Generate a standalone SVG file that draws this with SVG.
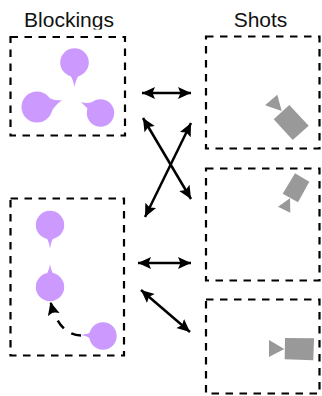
<svg xmlns="http://www.w3.org/2000/svg" width="322" height="396" viewBox="0 0 322 396">
<style>
.box{fill:none;stroke:#000;stroke-width:2.200;stroke-dasharray:7.500 6.500}
.blob{fill:#cc99ff}
.cam{fill:#999}
.lbl{font-family:"Liberation Sans",Arial,sans-serif;font-size:21px;fill:#111;text-anchor:middle}
.c{fill:none;stroke:#000;stroke-width:2.500}
</style>
<defs>
<marker id="a" markerUnits="userSpaceOnUse" markerWidth="16" markerHeight="16" refX="13" refY="7" orient="auto-start-reverse"><path d="M0 1L13 7L0 13L2.500 7Z" fill="#000"/></marker>
<clipPath id="t"><rect x="0" y="0" width="322" height="29.500"/></clipPath>
</defs>
<rect width="322" height="396" fill="#fff"/>
<g id="label-blockings"><text class="lbl" x="69" y="27" clip-path="url(#t)">Blockings</text></g>
<g id="label-shots"><text class="lbl" x="260.500" y="27" clip-path="url(#t)">Shots</text></g>
<g id="blocking-1">
<rect class="box" x="10.500" y="37" width="114.500" height="98.500"/>
<circle class="blob" cx="74.500" cy="62.500" r="14.300"/><path class="blob" d="M70 75Q73 79 74.500 87Q76 79 79 75Z"/>
<circle class="blob" cx="37" cy="107" r="15.500"/><path class="blob" d="M49 98Q54 100.500 62 100.500Q56 104 51 112Z"/>
<circle class="blob" cx="100.500" cy="113" r="13.700"/><path class="blob" d="M81 102Q87 104 92 102L89 110Q85 106 81 102Z"/>
</g>
<g id="blocking-2">
<rect class="box" x="10.500" y="198.500" width="113.500" height="157"/>
<circle class="blob" cx="50" cy="225" r="14.200"/><path class="blob" d="M46 237Q49 241 50 249Q51 241 54 237Z"/>
<circle class="blob" cx="50" cy="287" r="14.200"/><path class="blob" d="M46 275Q49 271 50 264Q51 271 54 275Z"/>
<circle class="blob" cx="103" cy="336" r="13.700"/><path class="blob" d="M92 332Q88 334 81 335Q88 336 92 340Z"/>
</g>
<g id="shot-1">
<rect class="box" x="206" y="36.500" width="113.500" height="112"/>
<path class="cam" d="M289.300 105L308.700 125.700L292.700 140L273.700 119.300Z"/>
<path class="cam" d="M265 105.300L277.300 94.700L281.700 111Z"/>
</g>
<g id="shot-2">
<rect class="box" x="206" y="168.500" width="113.500" height="112"/>
<path class="cam" d="M295 173.300L309.300 181.700L298 202.300L282.700 193.700Z"/>
<path class="cam" d="M278 206.700L290 198.300L290.300 212.700Z"/>
</g>
<g id="shot-3">
<rect class="box" x="206" y="299.500" width="113.500" height="94"/>
<path class="cam" d="M285 338L314 338.300L313.300 360.300L284.700 359.300Z"/>
<path class="cam" d="M269 340L284.300 349L269 357Z"/>
</g>
<g id="connectors">
<path class="c" d="M142 93H191" marker-start="url(#a)" marker-end="url(#a)"/>
<path class="c" d="M143 118L191 199" marker-start="url(#a)" marker-end="url(#a)"/>
<path class="c" d="M191 123L145 217" marker-start="url(#a)" marker-end="url(#a)"/>
<path class="c" d="M138 263H191" marker-start="url(#a)" marker-end="url(#a)"/>
<path class="c" d="M141 290L190 332" marker-start="url(#a)" marker-end="url(#a)"/>
<path class="c" d="M81 335.500Q59 335 50.500 302" stroke-dasharray="10 9" marker-end="url(#a)"/>
</g>
</svg>
